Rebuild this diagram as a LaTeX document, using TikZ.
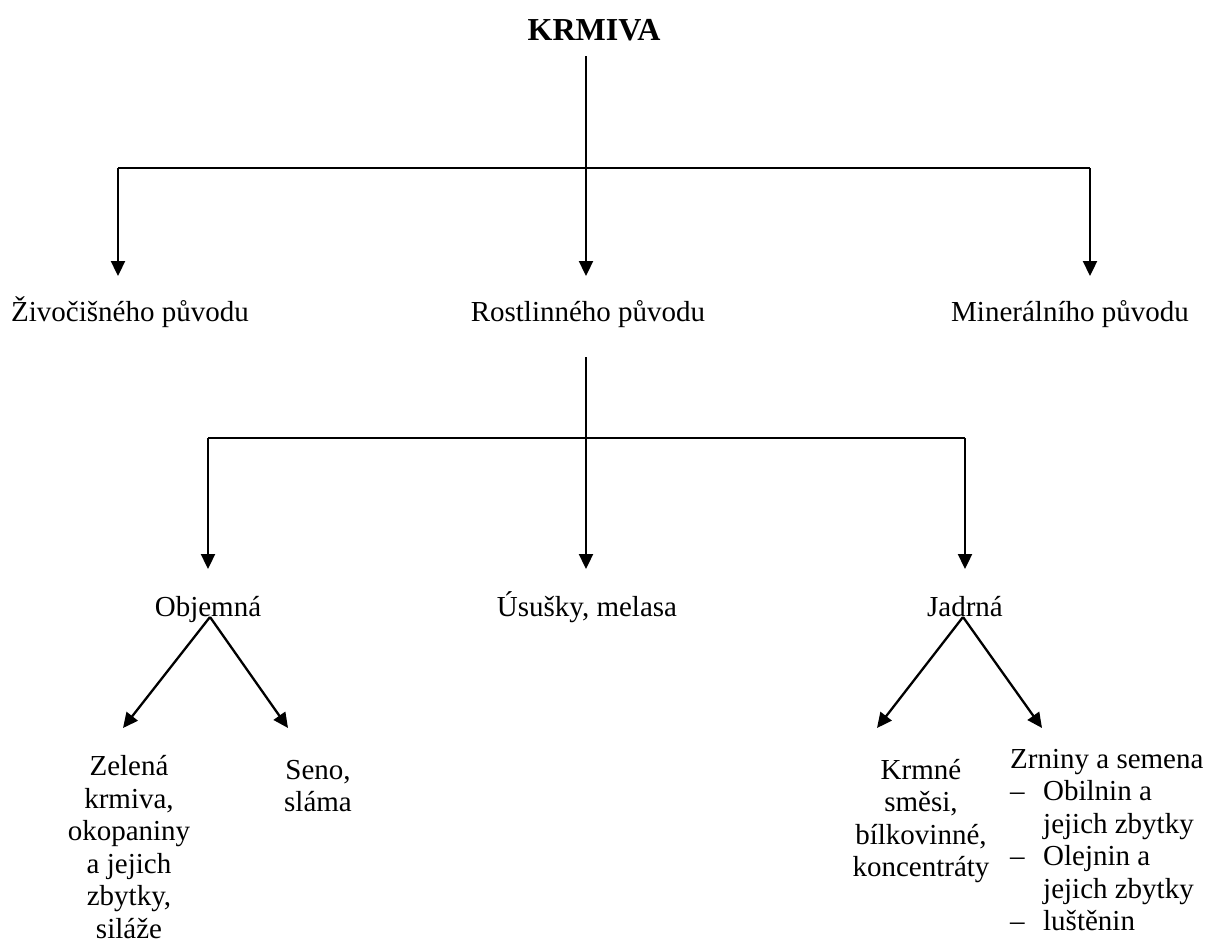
\documentclass[tikz,border=0pt]{standalone}
\usepackage{fontspec}
\setmainfont{Liberation Serif}
\usetikzlibrary{arrows.meta}
\begin{document}
\begin{tikzpicture}[x=1pt,y=-1pt,
  lbl/.style={inner sep=0pt, anchor=base, font=\fontsize{29}{32.5}\selectfont},
  ttl/.style={inner sep=0pt, anchor=base, font=\fontsize{32}{36}\selectfont\bfseries},
  ln/.style={line width=2.3pt},
  arr/.style={line width=2.3pt, -{Triangle[length=15pt,width=14pt]}}]
\useasboundingbox (0,0) rectangle (1219,943);
% texts
\node[ttl] (krmiva) at (594,40) {KRMIVA};
\node[lbl] (ziv) at (130,321) {Živočišného původu};
\node[lbl] (rost) at (588,321) {Rostlinného původu};
\node[lbl] (min) at (1070,321) {Minerálního původu};
\node[lbl] (obj) at (208,616) {Objemná};
\node[lbl] (usu) at (587,616) {Úsušky, melasa};
\node[lbl] (jad) at (965,616) {Jadrná};
% multi-line nodes: base anchor is the baseline of the last line
\node[lbl, align=center] (zel) at (129,938) {Zelená\\krmiva,\\okopaniny\\a jejich\\zbytky,\\siláže};
\node[lbl, align=center] (seno) at (318,811.5) {Seno,\\sláma};
\node[lbl, align=center] (krm) at (921,876.5) {Krmné\\směsi,\\bílkovinné,\\koncentráty};
\node[lbl, align=left, anchor=base west] (zrn) at (1010,930.5) {Zrniny a semena\\
\makebox[33pt][l]{–}Obilnin a\\
\hspace*{33pt}jejich zbytky\\
\makebox[33pt][l]{–}Olejnin a\\
\hspace*{33pt}jejich zbytky\\
\makebox[33pt][l]{–}luštěnin};
% junctions and arrow ends
\coordinate (k0) at (586,56);
\coordinate (k1) at (586,168);
\coordinate (kl) at (118,168);
\coordinate (kr) at (1090,168);
\coordinate (tz) at (118,276);
\coordinate (tr) at (586,276);
\coordinate (tm) at (1090,276);
\coordinate (r0) at (586,357);
\coordinate (r1) at (586,438);
\coordinate (rl) at (208,438);
\coordinate (rr) at (965,438);
\coordinate (to) at (208,569);
\coordinate (tu) at (586,569);
\coordinate (tj) at (965,569);
\coordinate (oa) at (210,617);
\coordinate (ja) at (963,617);
\coordinate (tzel) at (123,728);
\coordinate (tsen) at (288,728);
\coordinate (tkrm) at (877,728);
\coordinate (tzrn) at (1042,728);
% connectors
\draw[ln] (k0) -- (k1);
\draw[ln] (kl) -- (kr);
\draw[arr] (kl) -- (tz);
\draw[arr] (k1) -- (tr);
\draw[arr] (kr) -- (tm);
\draw[ln] (r0) -- (r1);
\draw[ln] (rl) -- (rr);
\draw[arr] (rl) -- (to);
\draw[arr] (r1) -- (tu);
\draw[arr] (rr) -- (tj);
\draw[arr] (oa) -- (tzel);
\draw[arr] (oa) -- (tsen);
\draw[arr] (ja) -- (tkrm);
\draw[arr] (ja) -- (tzrn);
\end{tikzpicture}
\end{document}
